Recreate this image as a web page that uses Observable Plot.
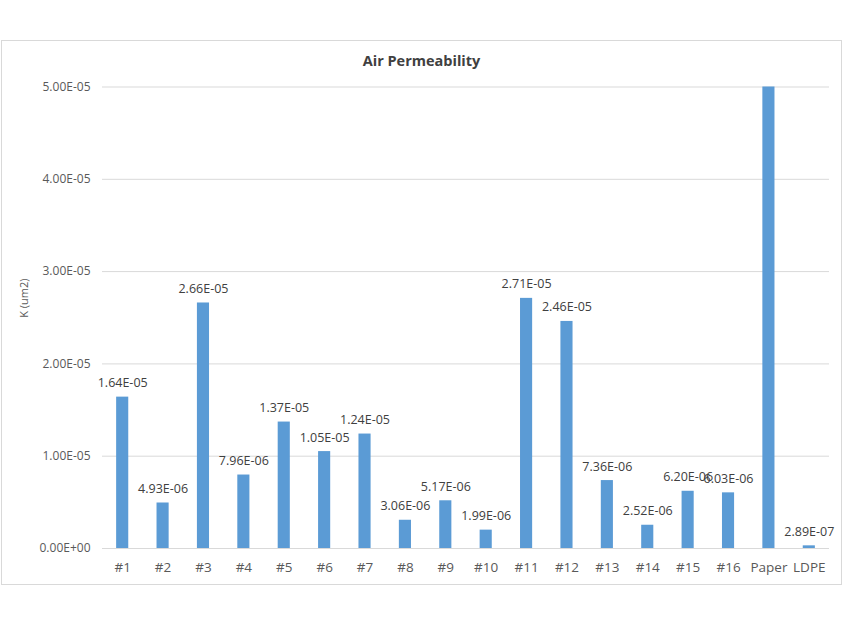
<!DOCTYPE html>
<html>
<head>
<meta charset="utf-8">
<script src="https://cdn.jsdelivr.net/npm/d3@7"></script>
<script src="https://cdn.jsdelivr.net/npm/@observablehq/plot@0.6"></script>
<style>
  html, body { margin: 0; padding: 0; background: #fff; }
  #wrap { position: relative; width: 843px; height: 632px; overflow: hidden; }
  #frame { position: absolute; left: 1px; top: 40px; width: 839px; height: 543px; border: 1px solid #d9d9d9; }
  #title { position: absolute; left: 0; width: 843px; top: 51px; text-align: center;
           font-family: "Open Sans", sans-serif; font-weight: bold; font-size: 14.5px; color: #404040; }
  #chart { position: absolute; left: 0; top: 0; }
</style>
</head>
<body>
<div id="wrap">
  <div id="frame"></div>
  <div id="chart"></div>
  <div id="title">Air Permeability</div>
</div>
<script>
const categories = ["#1","#2","#3","#4","#5","#6","#7","#8","#9","#10","#11","#12","#13","#14","#15","#16","Paper","LDPE"];
const values = [1.64e-5, 4.93e-6, 2.66e-5, 7.96e-6, 1.37e-5, 1.05e-5, 1.24e-5, 3.06e-6, 5.17e-6, 1.99e-6, 2.71e-5, 2.46e-5, 7.36e-6, 2.52e-6, 6.20e-6, 6.03e-6, 6.00e-5, 2.89e-7];
const yTicks = [0, 1e-5, 2e-5, 3e-5, 4e-5, 5e-5];
const yMax = 5e-5;

function sci(v) {
  const [m, e] = v.toExponential(2).split("e");
  const n = parseInt(e, 10);
  return m + "E" + (n < 0 ? "-" : "+") + String(Math.abs(n)).padStart(2, "0");
}

const data = categories.map((c, i) => ({cat: c, v: values[i]}));
const labelled = data.filter(d => d.v <= yMax);

const chart = Plot.plot({
  width: 843,
  height: 632,
  marginTop: 86.5,
  marginBottom: 84,
  marginLeft: 102,
  marginRight: 14,
  style: {fontFamily: "Open Sans, sans-serif", background: "transparent"},
  x: {domain: categories, paddingInner: 0.7, paddingOuter: 0.35, round: false, label: null},
  y: {domain: [0, yMax], label: null},
  marks: [
    Plot.gridY(yTicks, {stroke: "#d9d9d9", strokeOpacity: 1}),
    Plot.barY(data, {x: "cat", y: "v", fill: "#5b9bd5", clip: true}),
    Plot.text(labelled, {x: "cat", y: "v", text: d => sci(d.v), dy: -14, fontSize: 12.5, fill: "#404040"}),
    Plot.axisX({tickSize: 0, tickPadding: 14, fontSize: 13.5, fill: "#595959", label: null}),
    Plot.axisY(yTicks, {tickSize: 0, tickPadding: 12, fontSize: 12, fill: "#595959", tickFormat: sci, label: null}),
    Plot.text(["K (um2)"], {frameAnchor: "left", dx: -78, rotate: -90, fontSize: 11, fill: "#595959"})
  ]
});
document.getElementById("chart").appendChild(chart);
</script>
</body>
</html>
